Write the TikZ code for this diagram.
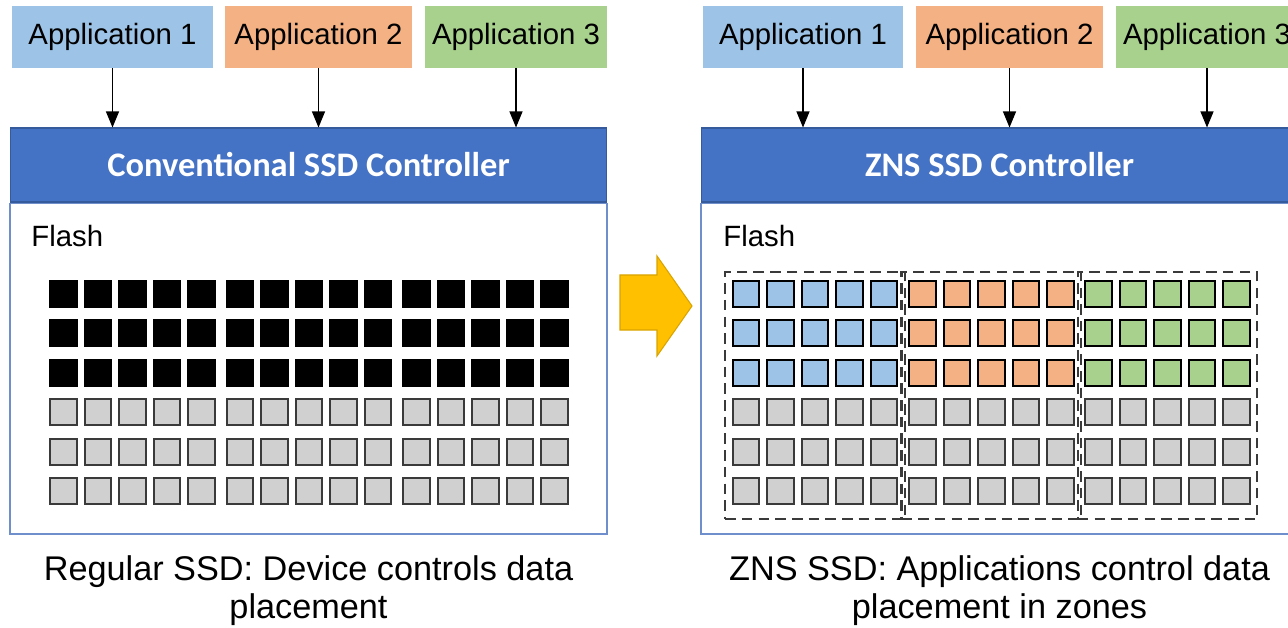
\documentclass[tikz,border=0pt]{standalone}
\usepackage{fontspec}
\setmainfont{Liberation Sans}
\newfontfamily\ctrlfont{Carlito}
\usepackage{xcolor}
\usetikzlibrary{positioning, arrows.meta, calc, fit}

\definecolor{appblue}{HTML}{9DC3E6}
\definecolor{apporange}{HTML}{F4B183}
\definecolor{appgreen}{HTML}{A9D18E}
\definecolor{ctrlblue}{HTML}{4472C4}
\definecolor{boxline}{HTML}{6F8FCC}
\definecolor{cellgray}{HTML}{D0D0D0}
\definecolor{cellline}{HTML}{3A3A3A}
\definecolor{arrowgold}{HTML}{FFC000}
\definecolor{arrowedge}{HTML}{D9A400}

\newcommand\appsize{\fontsize{16.7}{20}\selectfont}
\newcommand\capsize{\fontsize{19.5}{21.5}\selectfont}

\begin{document}
\begin{tikzpicture}[
  x=0.02cm, y=-0.02cm,
  appbox/.style={minimum height=1.24cm, inner sep=0pt, font=\appsize},
  inarrow/.style={-{Triangle[length=0.32cm, width=0.26cm]}, line width=0.6pt},
  ctrlhead/.style={fill=ctrlblue, draw=ctrlblue!80!black, line width=0.6pt, minimum width=11.94cm,
    minimum height=1.48cm, inner sep=0pt, text=white, font=\ctrlfont\bfseries\fontsize{19.6}{24}\selectfont},
  flashbox/.style={draw=boxline, line width=0.9pt, fill=white, minimum width=11.94cm, minimum height=6.62cm, inner sep=0pt},
  flashlabel/.style={font=\appsize, inner sep=0pt, anchor=west},
  cellbox/.style={minimum width=0.53cm, minimum height=0.52cm, inner sep=0pt, line width=1.2pt},
  usedcell/.style={cellbox, fill=black, draw=black},
  freecell/.style={cellbox, fill=cellgray, draw=cellline},
  zonebox/.style={draw=cellline, dash pattern=on 6pt off 3.5pt, line width=1.2pt, inner xsep=0.13cm, inner ysep=0.16cm},
  captext/.style={font=\capsize, align=center, inner sep=0pt}
]
\clip (0,0) rectangle (1288,628);

% regular SSD
\node[appbox, fill=appblue, minimum width=4.02cm] (la1) at (112.5,37) {Application 1};
\node[appbox, fill=apporange, minimum width=3.74cm] (la2) at (318.5,37) {Application 2};
\node[appbox, fill=appgreen, minimum width=3.64cm] (la3) at (516,37) {Application 3};

\node[ctrlhead] (lhead) at (308.5,165) {Conventional SSD Controller};
\node[flashbox, below=0pt of lhead] (lflash) {};
\node[flashlabel] (lflashtxt) at (31,236) {Flash};

\foreach \a in {1,2,3}
  \draw[inarrow] (la\a.south) -- (la\a.south |- lhead.north);

\foreach \g in {0,1,2}
  \foreach \c in {0,...,4} {
    \foreach \r in {0,1,2}
      \node[usedcell] (l-\g-\r-\c) at ({63.5+176.5*\g+34.5*\c},{294+39.4*\r}) {};
    \foreach \r in {3,4,5}
      \node[freecell] (l-\g-\r-\c) at ({63.5+176.5*\g+34.5*\c},{294+39.4*\r}) {};
  }

\node[captext] (lcap) at (308.5,591) {Regular SSD: Device controls data\\placement};

% ZNS SSD
\node[appbox, fill=appblue, minimum width=4.0cm] (ra1) at (803,37) {Application 1};
\node[appbox, fill=apporange, minimum width=3.74cm] (ra2) at (1009.5,37) {Application 2};
\node[appbox, fill=appgreen, minimum width=3.64cm] (ra3) at (1207,37) {Application 3};

\node[ctrlhead] (rhead) at (999.5,165) {ZNS SSD Controller};
\node[flashbox, below=0pt of rhead] (rflash) {};
\node[flashlabel] (rflashtxt) at (723,236) {Flash};

\foreach \a in {1,2,3}
  \draw[inarrow] (ra\a.south) -- (ra\a.south |- rhead.north);

\foreach \g/\zc in {0/appblue,1/apporange,2/appgreen} {
  \foreach \c in {0,...,4} {
    \foreach \r in {0,1,2}
      \node[cellbox, fill=\zc, draw=black] (z-\g-\r-\c) at ({746+176.3*\g+34.5*\c},{294+39.4*\r}) {};
    \foreach \r in {3,4,5}
      \node[freecell] (z-\g-\r-\c) at ({746+176.3*\g+34.5*\c},{294+39.4*\r}) {};
  }
  \coordinate (zb\g) at ($(z-\g-5-4.south)+(0,6)$);
  \node[zonebox, fit=(z-\g-0-0)(z-\g-5-4)(zb\g)] (zone\g) {};
}

\node[captext] (rcap) at (999.5,591) {ZNS SSD: Applications control data\\placement in zones};

% transition arrow
\draw[fill=arrowgold, draw=arrowedge, line width=0.6pt]
  (620,275) -- (657,275) -- (657,256) -- (692,306) -- (657,356) -- (657,330) -- (620,330) -- cycle;
\end{tikzpicture}
\end{document}
